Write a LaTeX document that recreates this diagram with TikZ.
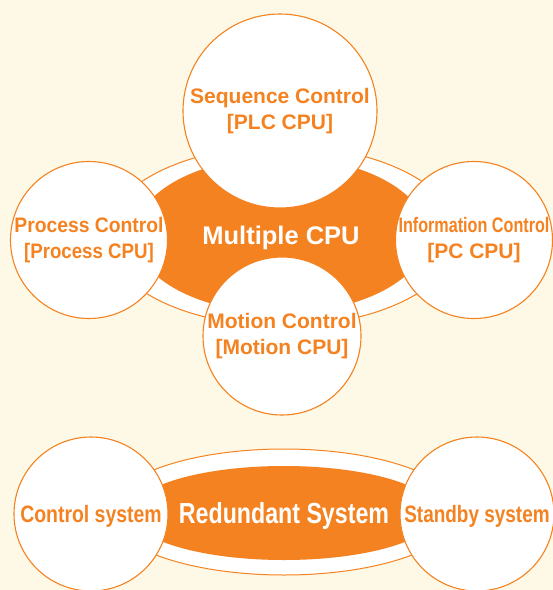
\documentclass[tikz,border=0pt]{standalone}
\usepackage{fontspec}
\setmainfont{Liberation Sans}
\usepackage{tikz}
\usetikzlibrary{shapes.geometric}
\definecolor{cpuorange}{HTML}{F58220}
\definecolor{paper}{HTML}{FEF9E6}
\newcommand{\narrow}[2]{\scalebox{#1}[1]{#2}}
\tikzset{unit/.style={circle, draw=cpuorange, line width=1.1pt, fill=white,
inner sep=0pt, align=center, text=cpuorange, font=\bfseries\fontsize{21}{26}\selectfont},
ring/.style={ellipse, draw=cpuorange, line width=1pt, fill=white, inner sep=0pt},
core/.style={ellipse, fill=cpuorange, inner sep=0pt, text=white, text depth=0pt}}

\begin{document}
\begin{tikzpicture}[x=1pt, y=-1pt, pair/.style={unit, minimum size=154pt, text depth=0pt,
font=\bfseries\fontsize{23.7}{28}\selectfont}]
\useasboundingbox (0,0) rectangle (553,590);
\fill[paper] (0,0) rectangle (553,590);

% multiple cpu
\node[ring, minimum width=352pt, minimum height=180pt] (multiring) at (282,236) {};
\node[core, minimum width=292pt, minimum height=156pt,
	font=\bfseries\fontsize{25.5}{30}\selectfont] (multi) at (281,235) {Multiple CPU};
\node[unit, minimum size=194pt] (seq) at (280,111) {Sequence Control\\{[PLC CPU]}};
\node[unit, minimum size=157pt] (proc) at (89,240) {\narrow{.92}{Process Control}\\\narrow{.89}{[Process CPU]}};
\node[unit, minimum size=157pt] (info) at (474,240) {\narrow{.77}{Information Control}\\{[PC CPU]}};
\node[unit, minimum size=158pt] (motion) at (282,336) {Motion Control\\{[Motion CPU]}};

% redundant system
\node[ring, minimum width=350pt, minimum height=126pt] (dualring) at (284,512) {};
\node[core, minimum width=307pt, minimum height=94pt,
	font=\bfseries\fontsize{29}{34}\selectfont] (dual) at (284,513) {\narrow{.8}{Redundant System}};
\node[pair] (ctl) at (91,514) {\narrow{.82}{Control system}};
\node[pair] (standby) at (477,514) {\narrow{.8}{Standby system}};
\end{tikzpicture}
\end{document}
